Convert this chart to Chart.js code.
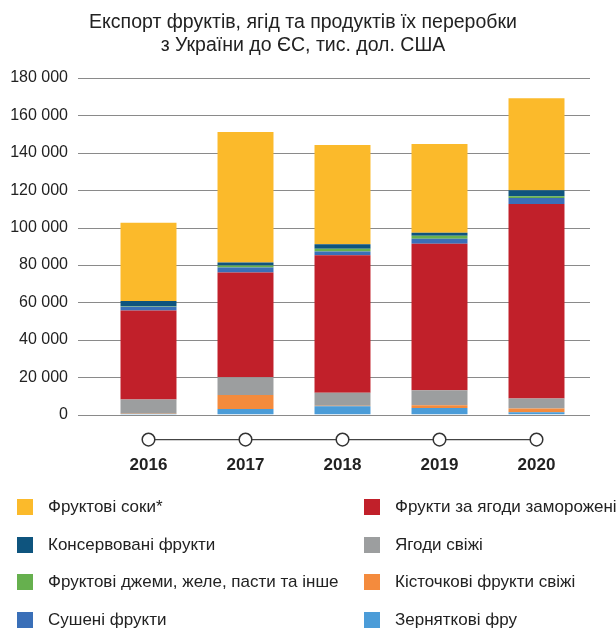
<!DOCTYPE html>
<html>
<head>
<meta charset="utf-8">
<script src="https://cdn.jsdelivr.net/npm/chart.js@4.4.0/dist/chart.umd.min.js"></script>
<style>
body { margin: 0; background: #fff; font-family: "Liberation Sans", Arial, sans-serif; }
#wrap { position: relative; width: 616px; height: 630px; overflow: hidden; }
#myChart { position: absolute; left: 0; top: 0; }
#title { position: absolute; left: 0; top: 10px; width: 606px; text-align: center; font-size: 19.5px; line-height: 23px; color: #222; }
#legend { position: absolute; left: 0; top: 0; width: 616px; height: 630px; }
.item { position: absolute; display: flex; align-items: center; white-space: nowrap; font-size: 17px; color: #222; height: 20px; }
.item .box { width: 16px; height: 16px; display: inline-block; margin-right: 15px; flex: none; }
</style>
</head>
<body>
<div id="wrap">
  <canvas id="myChart" width="616" height="525"></canvas>
  <div id="title"></div>
  <div id="legend"></div>
</div>
<script>
let titleLines = ['Експорт фруктів, ягід та продуктів їх переробки', 'з України до ЄС, тис. дол. США'];
let years = ['2016', '2017', '2018', '2019', '2020'];

// stacked bottom to top
let zernyatkovi = [300, 3000, 4500, 3500, 1300];
let kistochkovi = [100, 7500, 200, 1500, 2000];
let yagodySvizhi = [7700, 9500, 7000, 8000, 5300];
let zamorozheni = [47600, 56000, 73500, 78400, 104000];
let susheni = [2000, 2700, 2000, 2700, 3200];
let dzhemy = [300, 1000, 1500, 1500, 1000];
let konservovani = [2800, 1600, 2400, 1600, 3200];
let soky = [41800, 69800, 53100, 47500, 49200];

let yTicksMax = 180000;
let yTicksStep = 20000;

let series = [
    { label: 'Зерняткові фру', data: zernyatkovi, color: '#4b9cd8' },
    { label: 'Кісточкові фрукти свіжі', data: kistochkovi, color: '#f48b3d' },
    { label: 'Ягоди свіжі', data: yagodySvizhi, color: '#9c9e9f' },
    { label: 'Фрукти за ягоди заморожені', data: zamorozheni, color: '#c1202a' },
    { label: 'Сушені фрукти', data: susheni, color: '#3a6fb8' },
    { label: 'Фруктові джеми, желе, пасти та інше', data: dzhemy, color: '#66b04e' },
    { label: 'Консервовані фрукти', data: konservovani, color: '#0e547e' },
    { label: 'Фруктові соки*', data: soky, color: '#fbba2b' }
];

function fmt(v) {
    return String(v).replace(/\B(?=(\d{3})+(?!\d))/g, ' ');
}

document.getElementById('title').innerHTML = titleLines.join('<br>');

// gridlines that run a bit left of the plot area
let gridPlugin = {
    id: 'wideGrid',
    beforeDatasetsDraw(chart) {
        let c = chart.ctx;
        let y = chart.scales.y;
        c.save();
        c.strokeStyle = '#8a8a8a';
        c.lineWidth = 1.2;
        y.ticks.forEach(t => {
            let py = Math.round(y.getPixelForValue(t.value)) + 0.5;
            c.beginPath();
            c.moveTo(78, py);
            c.lineTo(chart.chartArea.right + 5, py);
            c.stroke();
        });
        c.restore();
    }
};

// circles + line under the bars
let timelinePlugin = {
    id: 'timeline',
    afterDraw(chart) {
        let c = chart.ctx;
        let x = chart.scales.x;
        let py = chart.chartArea.bottom + 25;
        let xs = years.map((_, i) => x.getPixelForTick(i));
        c.save();
        c.strokeStyle = '#444';
        c.lineWidth = 1.2;
        c.beginPath();
        c.moveTo(xs[0], py);
        c.lineTo(xs[xs.length - 1], py);
        c.stroke();
        c.lineWidth = 1.5;
        c.strokeStyle = '#333';
        c.fillStyle = '#fff';
        xs.forEach(px => {
            c.beginPath();
            c.arc(px, py, 6.3, 0, Math.PI * 2);
            c.fill();
            c.stroke();
        });
        c.restore();
    }
};

let ctx = document.getElementById('myChart');
let stackedBar = new Chart(ctx, {
    type: 'bar',
    data: {
        labels: years,
        datasets: series.map(s => ({
            label: s.label,
            data: s.data,
            backgroundColor: s.color,
            borderWidth: 0,
            barPercentage: 0.577,
            categoryPercentage: 1
        }))
    },
    options: {
        responsive: false,
        animation: false,
        layout: { padding: { left: 0, right: 31, top: 78, bottom: 8 } },
        plugins: {
            legend: { display: false },
            tooltip: { enabled: false },
            title: { display: false }
        },
        scales: {
            x: {
                stacked: true,
                grid: { display: false, drawTicks: false },
                border: { display: false },
                ticks: {
                    padding: 41,
                    color: '#222',
                    font: { family: '"Liberation Sans", Arial, sans-serif', size: 17, weight: 'bold' }
                }
            },
            y: {
                stacked: true,
                min: 0,
                max: yTicksMax,
                afterFit(scale) { scale.width = 100; },
                grid: { display: false, drawTicks: false },
                border: { display: false },
                ticks: {
                    stepSize: yTicksStep,
                    padding: 32,
                    color: '#222',
                    font: { family: '"Liberation Sans", Arial, sans-serif', size: 16 },
                    callback: v => fmt(v)
                }
            }
        }
    },
    plugins: [gridPlugin, timelinePlugin]
});

// two-column legend, top of stack first
let legend = document.getElementById('legend');
let rowsY = [507, 545, 582, 620];
series.slice().reverse().forEach((s, i) => {
    let col = Math.floor(i / 4);
    let row = i % 4;
    let el = document.createElement('div');
    el.className = 'item';
    el.style.left = (col === 0 ? 17 : 364) + 'px';
    el.style.top = (rowsY[row] - 10) + 'px';
    el.innerHTML = '<span class="box" style="background:' + s.color + '"></span><span>' + s.label + '</span>';
    legend.appendChild(el);
});
</script>
</body>
</html>
